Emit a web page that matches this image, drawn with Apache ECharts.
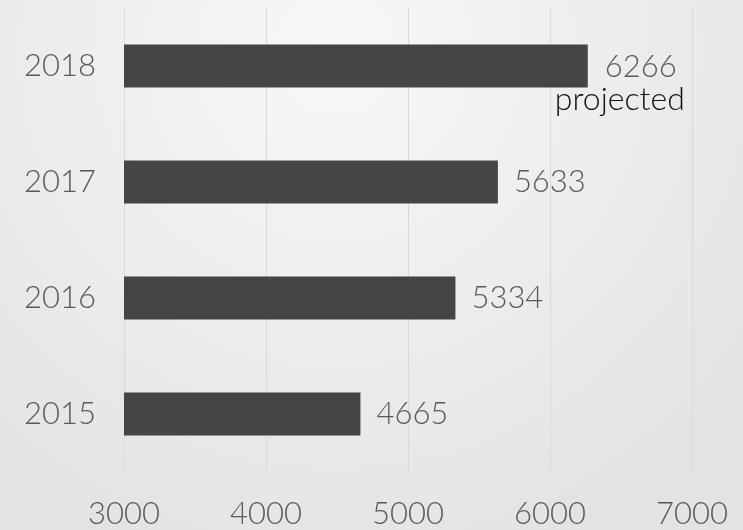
<!DOCTYPE html>
<html>
<head>
<meta charset="utf-8">
<script src="https://cdn.jsdelivr.net/npm/echarts@6/dist/echarts.min.js"></script>
<style>
html,body{margin:0;padding:0;width:743px;height:530px;overflow:hidden;}
#c{width:743px;height:530px;}
</style>
</head>
<body>
<div id="c"></div>
<script>
const years = ['2015', '2016', '2017', '2018'];
const values = [4665, 5334, 5633, 6266];
const notes = ['', '', '', 'projected'];

const FONT = 'Lato';
const W = 300;
const chart = echarts.init(document.getElementById('c'));

const data = values.map((v, i) => {
  const item = { value: v };
  if (notes[i]) {
    item.label = {
      position: 'right',
      distance: 0,
      offset: [-33, 17],
      formatter: '{v|' + v + '}\n{p|' + notes[i] + '}',
      rich: {
        v: { fontFamily: FONT, fontWeight: W, fontSize: 31, color: '#595959', padding: [0, 0, 0, 50], lineHeight: 34 },
        p: { fontFamily: FONT, fontWeight: W, fontSize: 32, color: '#111111', lineHeight: 32 }
      }
    };
  }
  return item;
});

chart.setOption({
  backgroundColor: {
    type: 'radial', x: 0.45, y: 0.1, r: 1.0,
    colorStops: [{ offset: 0, color: '#f8f8f8' }, { offset: 1, color: '#e3e3e3' }]
  },
  animation: false,
  grid: { left: 124, right: 51, top: 8, bottom: 58, containLabel: false },
  xAxis: {
    type: 'value', min: 3000, max: 7000, interval: 1000,
    axisLine: { show: false }, axisTick: { show: false },
    splitLine: { show: true, lineStyle: { color: '#d9d9d9', width: 1 } },
    axisLabel: { fontFamily: FONT, fontWeight: W, fontSize: 31, color: '#595959', margin: 26, formatter: v => String(v) }
  },
  yAxis: {
    type: 'category', data: years,
    axisLine: { show: false }, axisTick: { show: false },
    axisLabel: { fontFamily: FONT, fontWeight: W, fontSize: 31, color: '#595959', margin: 28 }
  },
  series: [{
    type: 'bar',
    data: data,
    barWidth: 43,
    itemStyle: { color: '#454545' },
    label: {
      show: true, position: 'right', distance: 16,
      fontFamily: FONT, fontWeight: W, fontSize: 31, color: '#595959'
    }
  }]
});
</script>
</body>
</html>
